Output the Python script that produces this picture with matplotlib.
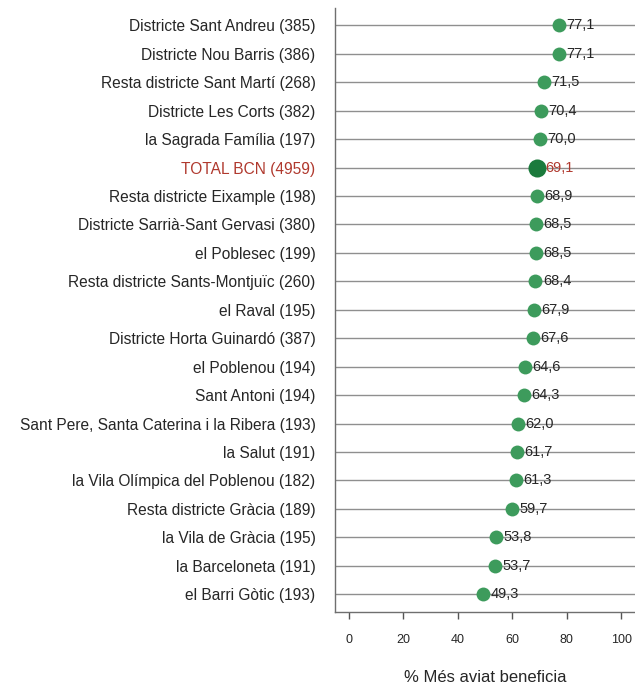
import numpy as np
import matplotlib
matplotlib.use("Agg")
import matplotlib.pyplot as plt

plt.rcParams['font.family'] = ['Liberation Sans', 'DejaVu Sans']

names = ["Districte Sant Andreu (385)", "Districte Nou Barris (386)",
         "Resta districte Sant Martí (268)", "Districte Les Corts (382)",
         "la Sagrada Família (197)", "TOTAL BCN (4959)",
         "Resta districte Eixample (198)", "Districte Sarrià-Sant Gervasi (380)",
         "el Poblesec (199)", "Resta districte Sants-Montjuïc (260)",
         "el Raval (195)", "Districte Horta Guinardó (387)",
         "el Poblenou (194)", "Sant Antoni (194)",
         "Sant Pere, Santa Caterina i la Ribera (193)", "la Salut (191)",
         "la Vila Olímpica del Poblenou (182)", "Resta districte Gràcia (189)",
         "la Vila de Gràcia (195)", "la Barceloneta (191)", "el Barri Gòtic (193)"]
values = [77.1, 77.1, 71.5, 70.4, 70.0, 69.1, 68.9, 68.5, 68.5, 68.4, 67.9,
          67.6, 64.6, 64.3, 62.0, 61.7, 61.3, 59.7, 53.8, 53.7, 49.3]
total_name = "TOTAL BCN (4959)"
xticks = [0, 20, 40, 60, 80, 100]

green = "#3d9b5c"
dark_green = "#1b7a3c"
red = "#b0392e"
txt = "#262626"

fig = plt.figure(figsize=(6.35, 6.87), dpi=100)
ax = fig.add_axes([0.5276, 0.109, 0.4724, 0.879])

n = len(names)
ypos = np.arange(n)[::-1]

for y, name, v in zip(ypos, names, values):
    is_total = name == total_name
    ax.plot(v, y, 'o', color=dark_green if is_total else green,
            markersize=13 if is_total else 10, markeredgewidth=0, zorder=3)
    ax.text(v + 2.8, y, f"{v:.1f}".replace(".", ","), va='center', ha='left',
            fontsize=10.5, color=red if is_total else txt, zorder=4)

ax.set_yticks(ypos)
ax.set_yticklabels(names, fontsize=11.2, color=txt)
for lab in ax.get_yticklabels():
    if lab.get_text() == total_name:
        lab.set_color(red)
ax.tick_params(axis='y', length=0, pad=14)
ax.grid(axis='y', color='#8f8f8f', linewidth=1)
ax.set_axisbelow(True)

ax.set_xlim(-5.1, 105)
ax.set_ylim(-0.63, n - 1 + 0.6)
ax.set_xticks(xticks)
ax.set_xticklabels([str(t) for t in xticks], fontsize=9, color=txt)
ax.tick_params(axis='x', direction='out', length=5, width=1, color='#555555', pad=11)

for side in ['top', 'right']:
    ax.spines[side].set_visible(False)
for side in ['left', 'bottom']:
    ax.spines[side].set_color('#6f6f6f')
    ax.spines[side].set_linewidth(1)

ax.set_xlabel("% Més aviat beneficia", fontsize=12, color=txt, labelpad=17)

fig.savefig("out.png", dpi=100)
